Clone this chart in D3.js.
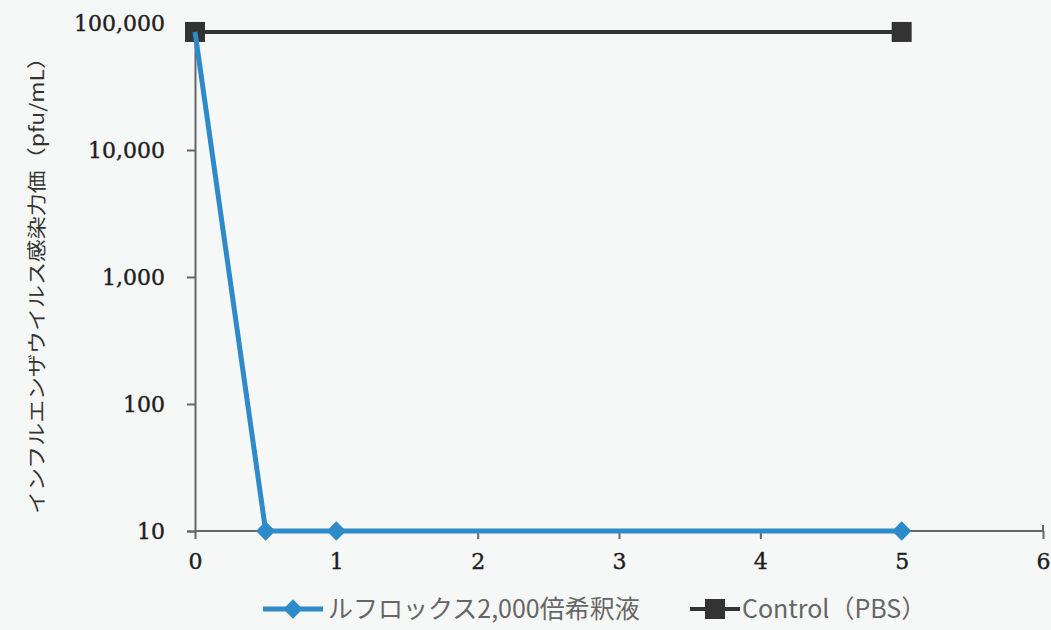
<!DOCTYPE html>
<html>
<head>
<meta charset="utf-8">
<script src="https://cdn.jsdelivr.net/npm/d3@7"></script>
<style>
  body { margin: 0; background: #f6f7f7; }
  svg { display: block; }
</style>
</head>
<body>
<div id="chart"></div>
<script>
// data
var seriesNames = ["ルフロックス2,000倍希釈液", "Control（PBS）"];
var luflox = [[0, 85000], [0.5, 10], [1, 10], [5, 10]];
var control = [[0, 85000], [5, 85000]];
var xTicks = [0, 1, 2, 3, 4, 5, 6];
var yTicks = [10, 100, 1000, 10000, 100000];

var W = 1051, H = 630;
var m = {left: 195, right: 8, top: 23, bottom: 99};

var svg = d3.select("#chart").append("svg")
    .attr("width", W).attr("height", H);

var x = d3.scaleLinear().domain([0, 6]).range([m.left, W - m.right]);
var y = d3.scaleLog().domain([10, 100000]).range([H - m.bottom, m.top]);

var fmt = d3.format(",");

// axes
var gx = svg.append("g")
    .attr("transform", "translate(0," + y(10) + ")")
    .call(d3.axisBottom(x).tickValues(xTicks).tickSize(8).tickPadding(14).tickFormat(d3.format("d")));
var gy = svg.append("g")
    .attr("transform", "translate(" + x(0) + ",0)")
    .call(d3.axisLeft(y).tickValues(yTicks).tickSize(8).tickPadding(22).tickFormat(fmt));

svg.selectAll(".domain, .tick line").attr("stroke", "#666").attr("stroke-width", 2);
svg.selectAll(".tick text")
    .style("font-family", "'DejaVu Serif', 'Liberation Serif', serif")
    .style("font-size", "22px")
    .attr("fill", "#1e1e1e")
    .attr("stroke", "#1e1e1e").attr("stroke-width", 0.4);
gx.selectAll(".domain").attr("d", "M" + x(0) + ",0H" + x(6) + "V-6");

var line = d3.line().x(function(d){return x(d[0]);}).y(function(d){return y(d[1]);});

// control
svg.append("path").datum(control)
    .attr("d", line).attr("fill", "none")
    .attr("stroke", "#333").attr("stroke-width", 4);
svg.selectAll(".sq").data(control).enter().append("rect")
    .attr("x", function(d){return x(d[0]) - 10;})
    .attr("y", function(d){return y(d[1]) - 10;})
    .attr("width", 20).attr("height", 20)
    .attr("fill", "#333");

// luflox
svg.append("path").datum(luflox)
    .attr("d", line).attr("fill", "none")
    .attr("stroke", "#2e8bc9").attr("stroke-width", 5);
var diamond = d3.symbol().type(d3.symbolDiamond2).size(240);
svg.selectAll(".dm").data(luflox.slice(1)).enter().append("path")
    .attr("d", diamond)
    .attr("transform", function(d){return "translate(" + x(d[0]) + "," + y(d[1]) + ")";})
    .attr("fill", "#2e8bc9");

// y label
svg.append("text")
    .attr("transform", "translate(44," + (y(1000) + 3) + ") rotate(-90)")
    .attr("text-anchor", "middle")
    .attr("textLength", 468)
    .attr("lengthAdjust", "spacingAndGlyphs")
    .style("font-family", "'Noto Sans CJK JP', sans-serif")
    .style("font-size", "19px")
    .attr("fill", "#333")
    .text("インフルエンザウイルス感染力価（pfu/mL）");

// legend
var leg = svg.append("g").attr("transform", "translate(0,609)");
leg.append("line").attr("x1", 263).attr("x2", 323).attr("y1", 0).attr("y2", 0)
    .attr("stroke", "#2e8bc9").attr("stroke-width", 5);
leg.append("path").attr("d", diamond).attr("transform", "translate(293,0)").attr("fill", "#2e8bc9");
leg.append("line").attr("x1", 690).attr("x2", 740).attr("y1", 0).attr("y2", 0)
    .attr("stroke", "#333").attr("stroke-width", 4);
leg.append("rect").attr("x", 705).attr("y", -10).attr("width", 20).attr("height", 20).attr("fill", "#333");
leg.selectAll("text").data(seriesNames).enter().append("text")
    .attr("x", function(d, i){return i == 0 ? 328 : 742;})
    .attr("y", 9)
    .style("font-family", "'Noto Sans CJK JP', sans-serif")
    .style("font-size", "25px")
    .attr("fill", "#666")
    .text(function(d){return d;});
</script>
</body>
</html>
